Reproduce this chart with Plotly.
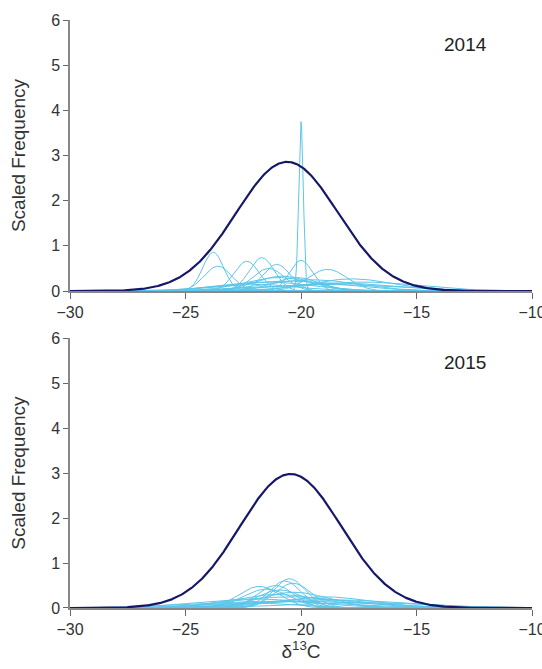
import numpy as np
import plotly.graph_objects as go
from plotly.subplots import make_subplots

# x grid for the density curves
x = np.linspace(-30, -10, 801)

# pooled (population) curves: mean, sd, peak height
pop_2014 = {"mean": -20.6, "sd": 2.2, "peak": 2.86}
pop_2015 = {"mean": -20.45, "sd": 2.2, "peak": 2.98}

# individual curves 2014
ind_2014_mean = [-20.0, -23.8, -23.6, -22.35, -21.7, -21.05, -21.4, -20.0, -18.85,
                 -17.8, -20.5, -19.5, -21.0, -20.8, -18.5, -19.0, -21.5, -20.2, -22.0, -17.3]
ind_2014_sd = [0.1, 0.45, 0.6, 0.55, 0.55, 0.6, 0.7, 0.5, 0.85,
               1.8, 2.5, 2.0, 1.5, 1.2, 2.5, 3.0, 2.0, 1.0, 1.8, 2.4]
ind_2014_peak = [3.75, 0.86, 0.55, 0.66, 0.74, 0.59, 0.5, 0.68, 0.48,
                 0.27, 0.22, 0.25, 0.3, 0.33, 0.18, 0.15, 0.2, 0.3, 0.15, 0.2]

# individual curves 2015
ind_2015_mean = [-21.8, -21.5, -20.5, -20.7, -20.35, -21.1, -20.9,
                 -21.0, -20.5, -19.5, -22.0, -18.5, -20.0, -21.5, -19.0, -20.3, -17.5, -22.5]
ind_2015_sd = [0.9, 1.0, 0.7, 0.7, 0.8, 0.8, 1.0,
               2.0, 2.5, 2.5, 2.5, 3.0, 3.0, 3.0, 2.0, 1.5, 3.0, 2.0]
ind_2015_peak = [0.48, 0.42, 0.65, 0.6, 0.55, 0.5, 0.4,
                 0.3, 0.25, 0.2, 0.2, 0.18, 0.15, 0.15, 0.25, 0.35, 0.12, 0.12]

years = ["2014", "2015"]
y_ticks = [0, 1, 2, 3, 4, 5, 6]
x_ticks = [-30, -25, -20, -15, -10]

light = "#5cc6ea"
dark = "#15176b"


def curve(mu, sd, peak):
    return peak * np.exp(-(x - mu) ** 2 / (2 * sd ** 2))


fig = make_subplots(rows=2, cols=1, vertical_spacing=0.08)

panels = [
    (pop_2014, ind_2014_mean, ind_2014_sd, ind_2014_peak),
    (pop_2015, ind_2015_mean, ind_2015_sd, ind_2015_peak),
]

for row, (pop, means, sds, peaks) in enumerate(panels, start=1):
    for mu, sd, pk in zip(means, sds, peaks):
        fig.add_trace(
            go.Scatter(x=x, y=curve(mu, sd, pk), mode="lines",
                       line=dict(color=light, width=1), showlegend=False),
            row=row, col=1,
        )
    fig.add_trace(
        go.Scatter(x=x, y=curve(pop["mean"], pop["sd"], pop["peak"]), mode="lines",
                   line=dict(color=dark, width=2.2), showlegend=False),
        row=row, col=1,
    )

axis_font = dict(family="Liberation Sans", size=16, color="#333333")
title_font = dict(family="Liberation Sans", size=19, color="#333333")

fig.update_xaxes(range=[-30, -10], tickvals=x_ticks, showline=True, linecolor="#888888",
                 linewidth=1.5, ticks="outside", ticklen=6, tickcolor="#666666",
                 showgrid=False, zeroline=False, tickfont=axis_font,
                 ticklabeloverflow="allow", automargin=False)
fig.update_yaxes(range=[0, 6], tickvals=y_ticks, showline=True, linecolor="#888888",
                 linewidth=1.5, ticks="outside", ticklen=5, tickcolor="#666666",
                 showgrid=False, zeroline=False, tickfont=axis_font,
                 title_text="Scaled Frequency", title_font=title_font,
                 title_standoff=20, automargin=False)
fig.update_xaxes(title_text="δ<sup>13</sup>C", title_font=title_font,
                 title_standoff=8, row=2, col=1)

# year labels
for row, yr in enumerate(years, start=1):
    ref = "" if row == 1 else "2"
    fig.add_annotation(x=-12.9, y=5.45, xref="x" + ref, yref="y" + ref, text=yr,
                       showarrow=False,
                       font=dict(family="Liberation Sans", size=19, color="#222222"))

fig.update_layout(
    width=542, height=669,
    margin=dict(l=70, r=10, t=20, b=61),
    plot_bgcolor="white", paper_bgcolor="white",
)
fig.update_yaxes(domain=[0.539, 1.0], row=1, col=1)
fig.update_yaxes(domain=[0.0, 0.459], row=2, col=1)

# drop the browser's default body margin so the figure fills the window
fig.write_html(
    "out.html",
    config={"displayModeBar": False},
    post_script="document.body.style.margin='0';"
                "document.documentElement.style.overflow='hidden';",
)
